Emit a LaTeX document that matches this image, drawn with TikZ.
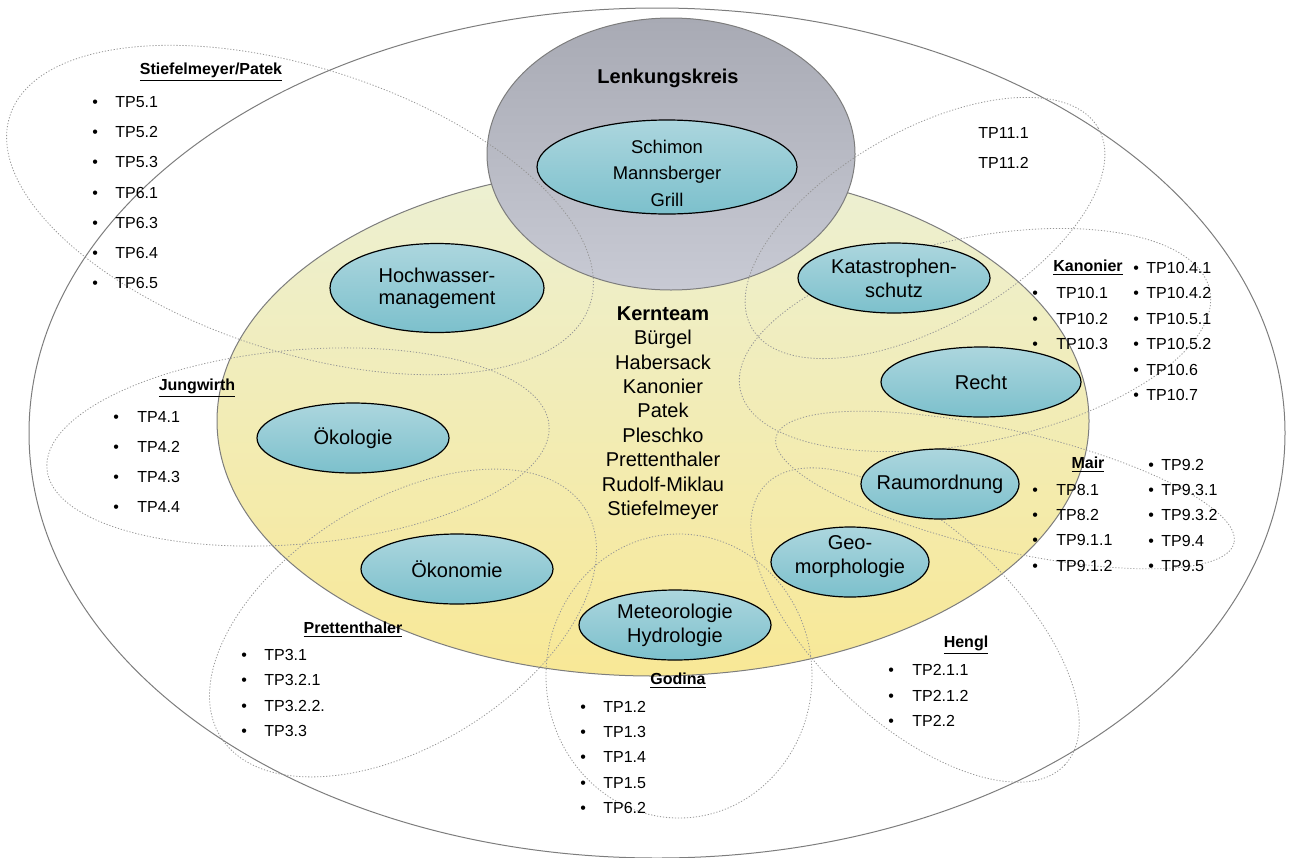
\documentclass[tikz,border=0pt]{standalone}
\usepackage{fontspec}
\setmainfont{Liberation Sans}
\usetikzlibrary{shapes.geometric}

\definecolor{tealtop}{RGB}{172,214,222}
\definecolor{tealbot}{RGB}{124,192,204}
\definecolor{greytop}{RGB}{168,170,180}
\definecolor{greybot}{RGB}{200,202,212}
\definecolor{yeltop}{RGB}{236,240,212}
\definecolor{yelbot}{RGB}{248,232,150}
\definecolor{rim}{RGB}{125,125,125}
\definecolor{dotc}{RGB}{150,150,150}

\newcommand{\bul}[1]{\makebox[#1pt][l]{\textbullet}}

\tikzset{
  topic/.style={ellipse, draw=black, line width=0.6pt, top color=tealtop, bottom color=tealbot,
    inner xsep=-6pt, inner ysep=0pt, align=center, font=\fontsize{10}{12}\selectfont},
  group/.style={draw=dotc, line width=0.4pt, dash pattern=on 0.6pt off 0.9pt},
  head/.style={inner sep=0pt, font=\fontsize{8}{9.6}\selectfont\bfseries},
  tp/.style={anchor=west, inner sep=0pt, font=\fontsize{8}{9.6}\selectfont},
}

\begin{document}
\begin{tikzpicture}[x=0.5pt, y=-0.5pt]
\useasboundingbox (0,0) rectangle (1289,857);

% outer frame, Kernteam, Lenkungskreis
\draw[rim, line width=0.5pt] (657,433) ellipse [x radius=628, y radius=425];
\shadedraw[top color=yeltop, bottom color=yelbot, draw=rim, line width=0.5pt]
  (653,421) ellipse [x radius=436, y radius=255];
\shadedraw[top color=greytop, bottom color=greybot, draw=rim, line width=0.5pt]
  (671,154) ellipse [x radius=184, y radius=136];

% work package groups
\draw[group, rotate around={-18:(300,210)}] (300,210) ellipse [x radius=305, y radius=142];
\draw[group, rotate around={5:(298,447)}] (298,447) ellipse [x radius=252, y radius=97];
\draw[group, rotate around={32:(403,623)}] (403,623) ellipse [x radius=215, y radius=122];
\draw[group] (679,676) ellipse [x radius=133, y radius=142];
\draw[group, rotate around={-43:(915,625)}] (915,625) ellipse [x radius=205, y radius=98];
\draw[group, rotate around={-13:(1005,490)}] (1005,490) ellipse [x radius=235, y radius=60];
\draw[group, rotate around={12:(975,340)}] (975,340) ellipse [x radius=240, y radius=102];
\draw[group, rotate around={30:(925,228)}] (925,228) ellipse [x radius=200, y radius=97];

% topics
\node[font=\fontsize{10}{12}\selectfont\bfseries] (lktitle) at (668,78) {Lenkungskreis};
\node[topic, minimum width=130pt, minimum height=47pt] (lenk) at (667,167) {};
\node[align=center, inner sep=0pt, font=\fontsize{9.2}{13.25}\selectfont] (lenktxt) at (667,173)
  {Schimon\\Mannsberger\\Grill};
\node[topic, minimum width=107pt, minimum height=44.5pt, font=\fontsize{10}{11}\selectfont]
  (hw) at (437,288) {Hochwasser-\\management};
\node[topic, minimum width=96pt, minimum height=35pt] (kat) at (894,278) {Katastrophen-\\schutz};
\node[topic, minimum width=100pt, minimum height=35pt] (recht) at (981,382) {Recht};
\node[topic, minimum width=79pt, minimum height=35pt] (raum) at (940,484) {Raumordnung};
\node[topic, minimum width=79pt, minimum height=35pt] (geo) at (850,562) {};
\node[align=center, inner sep=0pt, font=\fontsize{10}{12}\selectfont] (geotxt) at (850,557)
  {Geo-\\morphologie};
\node[topic, minimum width=96pt, minimum height=35pt] (oeko) at (353,438) {Ökologie};
\node[topic, minimum width=96pt, minimum height=35pt] (oekon) at (457,569) {Ökonomie};
\node[topic, minimum width=96pt, minimum height=35pt] (met) at (675,625) {Meteorologie\\Hydrologie};

\node[align=center, inner sep=0pt, font=\fontsize{10}{12.2}\selectfont] (kern) at (663,413)
  {\textbf{Kernteam}\\Bürgel\\Habersack\\Kanonier\\Patek\\Pleschko\\Prettenthaler\\Rudolf-Miklau\\Stiefelmeyer};

% lists
\node[head] (hsp) at (211,72) {\underline{Stiefelmeyer/Patek}};
\foreach \t [count=\i from 0] in {TP5.1,TP5.2,TP5.3,TP6.1,TP6.3,TP6.4,TP6.5}
  \node[tp] (sp\i) at (92,{102+30.2*\i}) {\bul{11.5}\t};

\node[head] (hjw) at (197,388) {\underline{Jungwirth}};
\foreach \t [count=\i from 0] in {TP4.1,TP4.2,TP4.3,TP4.4}
  \node[tp] (jw\i) at (113,{417+30*\i}) {\bul{12}\t};

\node[head] (hpr) at (353,630) {\underline{Prettenthaler}};
\foreach \t [count=\i from 0] in {TP3.1,TP3.2.1,TP3.2.2.,TP3.3}
  \node[tp] (pr\i) at (241,{655+25.3*\i}) {\bul{11.5}\t};

\node[head] (hgo) at (678,681) {\underline{Godina}};
\foreach \t [count=\i from 0] in {TP1.2,TP1.3,TP1.4,TP1.5,TP6.2}
  \node[tp] (go\i) at (580,{707+25.2*\i}) {\bul{11.5}\t};

\node[head] (hhe) at (966,645) {\underline{Hengl}};
\foreach \t [count=\i from 0] in {TP2.1.1,TP2.1.2,TP2.2}
  \node[tp] (he\i) at (888,{670+25.5*\i}) {\bul{12}\t};

\node[head] (hma) at (1088,465) {\underline{Mair}};
\foreach \t [count=\i from 0] in {TP8.1,TP8.2,TP9.1.1,TP9.1.2}
  \node[tp] (ma\i) at (1032,{490+25.2*\i}) {\bul{12}\t};
\foreach \t [count=\i from 0] in {TP9.2,TP9.3.1,TP9.3.2,TP9.4,TP9.5}
  \node[tp] (mb\i) at (1148,{465+25.2*\i}) {\bul{6.5}\t};

\node[head] (hka) at (1088,268) {\underline{Kanonier}};
\foreach \t [count=\i from 0] in {TP10.1,TP10.2,TP10.3}
  \node[tp] (ka\i) at (1032,{293+25.5*\i}) {\bul{12}\t};
\foreach \t [count=\i from 0] in {TP10.4.1,TP10.4.2,TP10.5.1,TP10.5.2,TP10.6,TP10.7}
  \node[tp] (kb\i) at (1133,{268+25.4*\i}) {\bul{6.5}\t};

\node[tp] (ks1) at (978,133) {TP11.1};
\node[tp] (ks2) at (978,163) {TP11.2};
\end{tikzpicture}
\end{document}
